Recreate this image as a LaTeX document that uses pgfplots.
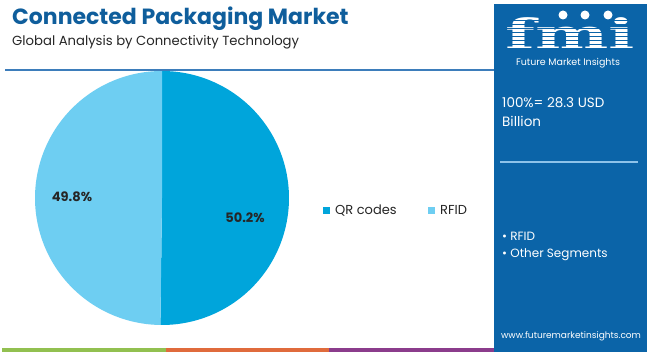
\documentclass[border=0pt]{standalone}
\usepackage{pgfplots}
\pgfplotsset{compat=1.18}
\usepackage{fontspec}
\setmainfont{Poppins}
\newfontfamily\logofont{DejaVu Serif}
\definecolor{qr}{HTML}{00A5DB}
\definecolor{rfid}{HTML}{6ECEF2}
\definecolor{panel}{HTML}{0B64A8}
\definecolor{ttl}{HTML}{0F5E9C}
\definecolor{rulec}{HTML}{3D7DBB}
\definecolor{pline}{HTML}{8EC3EA}
\definecolor{sgreen}{HTML}{92C050}
\definecolor{sorange}{HTML}{E06B3C}
\definecolor{spurple}{HTML}{8B3C8C}
\def\qrval{50.2}
\def\rfidval{49.8}
\pgfmathsetmacro\aQ{90-3.6*\qrval}
\pgfmathsetmacro\aR{\aQ-3.6*\rfidval}
\begin{document}
\begin{tikzpicture}
\begin{axis}[at={(0,0)},anchor=south west,width=650pt,height=352pt,scale only axis,
  xmin=0,xmax=650,ymin=0,ymax=352,axis lines=none,clip=false]
\fill[white] (axis cs:0,0) rectangle (axis cs:650,352);
% pie
\addplot[fill=qr,draw=none,domain=\aQ:90,samples=181] ({162+127*cos(x)},{154+127*sin(x)}) -- (axis cs:162,154) -- cycle;
\addplot[fill=rfid,draw=none,domain=\aR:\aQ,samples=181] ({162+127*cos(x)},{154+127*sin(x)}) -- (axis cs:162,154) -- cycle;
\node[font=\fontsize{13}{15}\selectfont\bfseries,text=black!85] at (axis cs:245,134) {\qrval\%};
\node[font=\fontsize{13}{15}\selectfont\bfseries,text=black!85] at (axis cs:72,155) {\rfidval\%};
% titles
\node[anchor=base west,inner sep=0,font=\fontsize{22}{26}\selectfont\bfseries,text=ttl] at (axis cs:12,327) {Connected Packaging Market};
\node[anchor=base west,inner sep=0,font=\fontsize{13.2}{16}\selectfont,text=black!85] at (axis cs:12,306) {Global Analysis by Connectivity Technology};
\draw[rulec,line width=2pt] (axis cs:5,282) -- (axis cs:494,282);
% legend
\fill[qr] (axis cs:323,138) rectangle (axis cs:330,145);
\node[anchor=base west,inner sep=0,font=\fontsize{13}{15}\selectfont,text=black!85] at (axis cs:335,137) {QR codes};
\fill[rfid] (axis cs:428,138) rectangle (axis cs:435,145);
\node[anchor=base west,inner sep=0,font=\fontsize{13}{15}\selectfont,text=black!85] at (axis cs:440,137) {RFID};
% bottom strip
\fill[sgreen] (axis cs:2,0) rectangle (axis cs:166,4);
\fill[sorange] (axis cs:166,0) rectangle (axis cs:329,4);
\fill[spurple] (axis cs:329,0) rectangle (axis cs:494,4);
% panel
\fill[panel] (axis cs:494,0) rectangle (axis cs:647,348);
\node[anchor=base,inner sep=0,text=white,font=\logofont\fontsize{42}{42}\selectfont\bfseries,xscale=1.65] at (axis cs:570,302) {fmi};
\pgfplotsinvokeforeach{304,308,312,316,320,324,328,332,336}{\draw[panel,line width=0.8pt] (axis cs:505,#1) -- (axis cs:635,#1);}
\fill[white] (axis cs:563,337) circle[radius=4.5pt];
\fill[white] (axis cs:585,337) circle[radius=4.5pt];
\fill[white] (axis cs:608,337) circle[radius=4.5pt];
\node[anchor=base,inner sep=0,text=white,font=\fontsize{9.5}{11}\selectfont] at (axis cs:568,286) {Future Market Insights};
\node[anchor=base west,inner sep=0,text=white,font=\fontsize{13.5}{16}\selectfont] at (axis cs:502,244) {100\%= 28.3 USD};
\node[anchor=base west,inner sep=0,text=white,font=\fontsize{13.5}{16}\selectfont] at (axis cs:502,225) {Billion};
\draw[pline,line width=1.5pt] (axis cs:500,190) -- (axis cs:638,190);
\node[anchor=base west,inner sep=0,text=white,font=\fontsize{12}{14}\selectfont] at (axis cs:502,111) {• RFID};
\node[anchor=base west,inner sep=0,text=white,font=\fontsize{12}{14}\selectfont] at (axis cs:502,94) {• Other Segments};
\node[anchor=base,inner sep=0,text=white,font=\fontsize{9}{11}\selectfont] at (axis cs:571,13) {www.futuremarketinsights.com};
\end{axis}
\end{tikzpicture}
\end{document}
